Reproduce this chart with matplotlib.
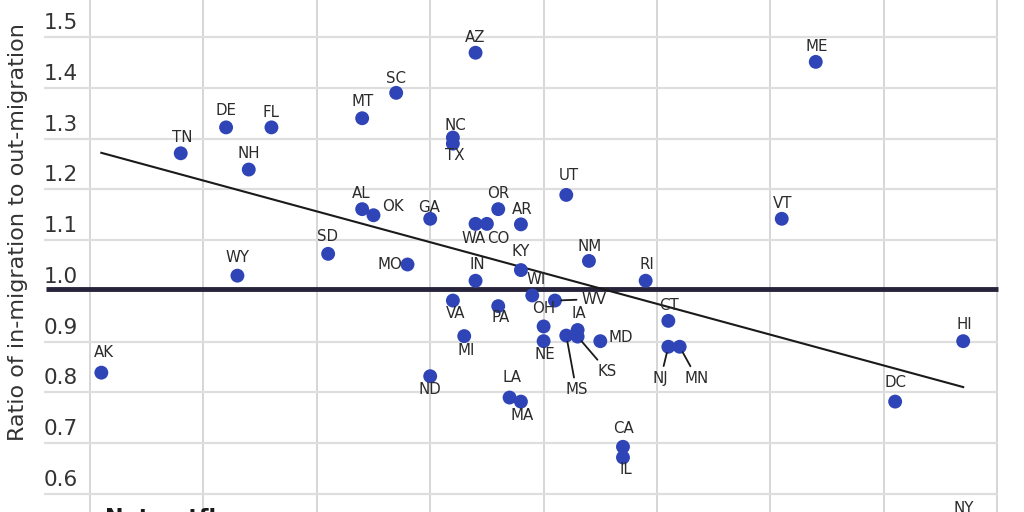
import matplotlib
matplotlib.use('Agg')
import matplotlib.pyplot as plt

plt.rcParams['font.family'] = ['DejaVu Sans']

# ---------------- data ----------------
states = ['AK', 'TN', 'DE', 'FL', 'NH', 'WY', 'SD', 'MT', 'AL', 'OK', 'SC', 'MO',
          'ND', 'GA', 'NC', 'TX', 'VA', 'MI', 'AZ', 'WA', 'IN', 'OR', 'PA', 'LA',
          'CO', 'KY', 'AR', 'MA', 'WI', 'OH', 'NE', 'WV', 'MS', 'UT', 'IA', 'KS',
          'NM', 'MD', 'CA', 'IL', 'RI', 'CT', 'NJ', 'MN', 'VT', 'ME', 'DC', 'HI', 'NY']
x_vals = [0.1, 0.8, 1.2, 1.6, 1.4, 1.3, 2.1, 2.4, 2.4, 2.5, 2.7, 2.8,
          3.0, 3.0, 3.2, 3.2, 3.2, 3.3, 3.4, 3.4, 3.4, 3.6, 3.6, 3.7,
          3.5, 3.8, 3.8, 3.8, 3.9, 4.0, 4.0, 4.1, 4.2, 4.2, 4.3, 4.3,
          4.4, 4.5, 4.7, 4.7, 4.9, 5.1, 5.1, 5.2, 6.1, 6.4, 7.1, 7.7, 7.7]
ratio = [0.839, 1.271, 1.322, 1.322, 1.239, 1.030, 1.073, 1.340, 1.161, 1.149, 1.390, 1.052,
         0.832, 1.142, 1.302, 1.290, 0.981, 0.911, 1.469, 1.132, 1.020, 1.161, 0.970, 0.790,
         1.132, 1.041, 1.131, 0.782, 0.991, 0.930, 0.901, 0.981, 0.912, 1.189, 0.923, 0.910,
         1.059, 0.901, 0.693, 0.672, 1.020, 0.941, 0.890, 0.890, 1.142, 1.451, 0.782, 0.901, 0.539]
y_ticks = [0.6, 0.7, 0.8, 0.9, 1.0, 1.1, 1.2, 1.3, 1.4, 1.5]
y_tick_labels = ['0.6', '0.7', '0.8', '0.9', '1.0', '1.1', '1.2', '1.3', '1.4', '1.5']
x_grid = [0, 1, 2, 3, 4, 5, 6, 7, 8]
trend_intercept = 1.278
trend_slope = -0.0607
y_title = 'Ratio of in-migration to out-migration'
note_text = 'Net outflow'

# ---------------- style / layout ----------------
PX = 0.72  # points per pixel at dpi 100
dot_color = '#2f44b6'
text_color = '#2b2b2b'

# label offsets in pixels (dx, dy, ha, leader)
default_above = (0, 16.5, 'center', False)
label_pos = {
    'AK': (3, 20.4, 'center', False), 'TN': (2, 15.5, 'center', False),
    'DE': (0, 17, 'center', False), 'FL': (0, 14.8, 'center', False),
    'NH': (0, 16.3, 'center', False), 'WY': (0, 17.7, 'center', False),
    'SD': (-1, 17, 'center', False), 'MT': (0, 17.2, 'center', False),
    'AL': (-1, 16, 'center', False), 'OK': (8.7, 8.3, 'left', False),
    'SC': (0, 14.7, 'center', False), 'MO': (-5, 0, 'right', False),
    'ND': (0, -13, 'center', False), 'GA': (-1.4, 11.4, 'center', False),
    'NC': (2, 12, 'center', False), 'TX': (2, -11.6, 'center', False),
    'VA': (2.7, -12.6, 'center', False), 'MI': (1.7, -14, 'center', False),
    'AZ': (0, 15.5, 'center', False), 'WA': (-1.7, -14.3, 'center', False),
    'IN': (1.7, 16.7, 'center', False), 'OR': (0.3, 16, 'center', False),
    'PA': (2.3, -11.3, 'center', False), 'LA': (2.5, 20.4, 'center', False),
    'CO': (11.6, -14.3, 'center', False), 'KY': (0, 18.3, 'center', False),
    'AR': (1.7, 15, 'center', False), 'MA': (1.5, -14.3, 'center', False),
    'WI': (3.5, 16.4, 'center', False), 'OH': (0, 18.4, 'center', False),
    'NE': (1.7, -13, 'center', False), 'WV': (26.4, 1.4, 'left', True),
    'MS': (10, -54.3, 'center', True), 'UT': (3, 19, 'center', False),
    'IA': (1.6, 16.7, 'center', False), 'KS': (30, -35, 'center', True),
    'NM': (0.7, 14.7, 'center', False), 'MD': (7.7, 4, 'left', False),
    'CA': (1, 18.3, 'center', False), 'IL': (3, -11.6, 'center', False),
    'RI': (1, 16.7, 'center', False), 'CT': (0.6, 15, 'center', False),
    'NJ': (-7.7, -31.6, 'center', True), 'MN': (17.4, -31.6, 'center', True),
    'VT': (1, 15, 'center', False), 'ME': (1, 15.7, 'center', False),
    'DC': (0, 19, 'center', False), 'HI': (0.7, 17, 'center', False),
    'NY': (1, 16.5, 'center', False),
}

# pixel mapping of the reference
x0_px, x_unit_px = 90.0, 113.4
y15_px, y_unit_px = 37.0, 507.8


def px_to_x(px):
    return (px - x0_px) / x_unit_px


def px_to_y(py):
    return 1.5 - (py - y15_px) / y_unit_px


fig = plt.figure(figsize=(10.24, 5.12), dpi=100)
ax = fig.add_axes([0, 0, 1, 1])
ax.set_xlim(px_to_x(0), px_to_x(1024))
ax.set_ylim(px_to_y(512), px_to_y(0))
ax.axis('off')

grid_left = px_to_x(44)
grid_right = px_to_x(998)

# vertical gridlines
for gx in x_grid:
    ax.axvline(gx, color='#d6d6d6', lw=1.4, zorder=1)
# horizontal gridlines + tick labels
for v, lab in zip(y_ticks, y_tick_labels):
    if abs(v - 1.0) > 1e-9:
        ax.hlines(v, grid_left, grid_right, color='#dedede', lw=1.6, zorder=1)
    ax.annotate(lab, (grid_left, v), xytext=(0, 8 * PX), textcoords='offset points',
                ha='left', va='baseline', fontsize=15.5, color='#333333', zorder=3)

# reference line at 1.0 (drawn slightly high to match the reference)
ax.hlines(1.0, px_to_x(46), grid_right, color='#27233a', lw=3.5, zorder=2,
          transform=ax.transData + matplotlib.transforms.ScaledTranslation(0, 1.5 / 100, fig.dpi_scale_trans))

# trend line
tx = [min(x_vals), max(x_vals)]
ty = [trend_intercept + trend_slope * t for t in tx]
ax.plot(tx, ty, color='#1a1a1a', lw=1.5, zorder=3)

# points
ax.scatter(x_vals, ratio, s=100, color=dot_color, edgecolors='none', zorder=5)

# labels
for st, xv, yv in zip(states, x_vals, ratio):
    dx, dy, ha, leader = label_pos.get(st, default_above)
    kw = {}
    if leader:
        kw['arrowprops'] = dict(arrowstyle='-', color='#1a1a1a', lw=1.3,
                                shrinkA=1.5, shrinkB=4.5)
    ax.annotate(st, (xv, yv), xytext=(dx * PX, dy * PX), textcoords='offset points',
                ha=ha, va='center', fontsize=10.8, color=text_color, zorder=6,
                annotation_clip=False, **kw)

# y-axis title
ax.text(px_to_x(18), px_to_y(232), y_title, rotation=90, ha='center', va='center',
        fontsize=16, color='#333333')

# bottom note (cropped by the picture edge, as in the reference)
ax.text(px_to_x(105), px_to_y(508.5), note_text, ha='left', va='top',
        fontsize=16, fontweight='bold', color='#1a1a1a')

fig.savefig('out.png', dpi=100)
